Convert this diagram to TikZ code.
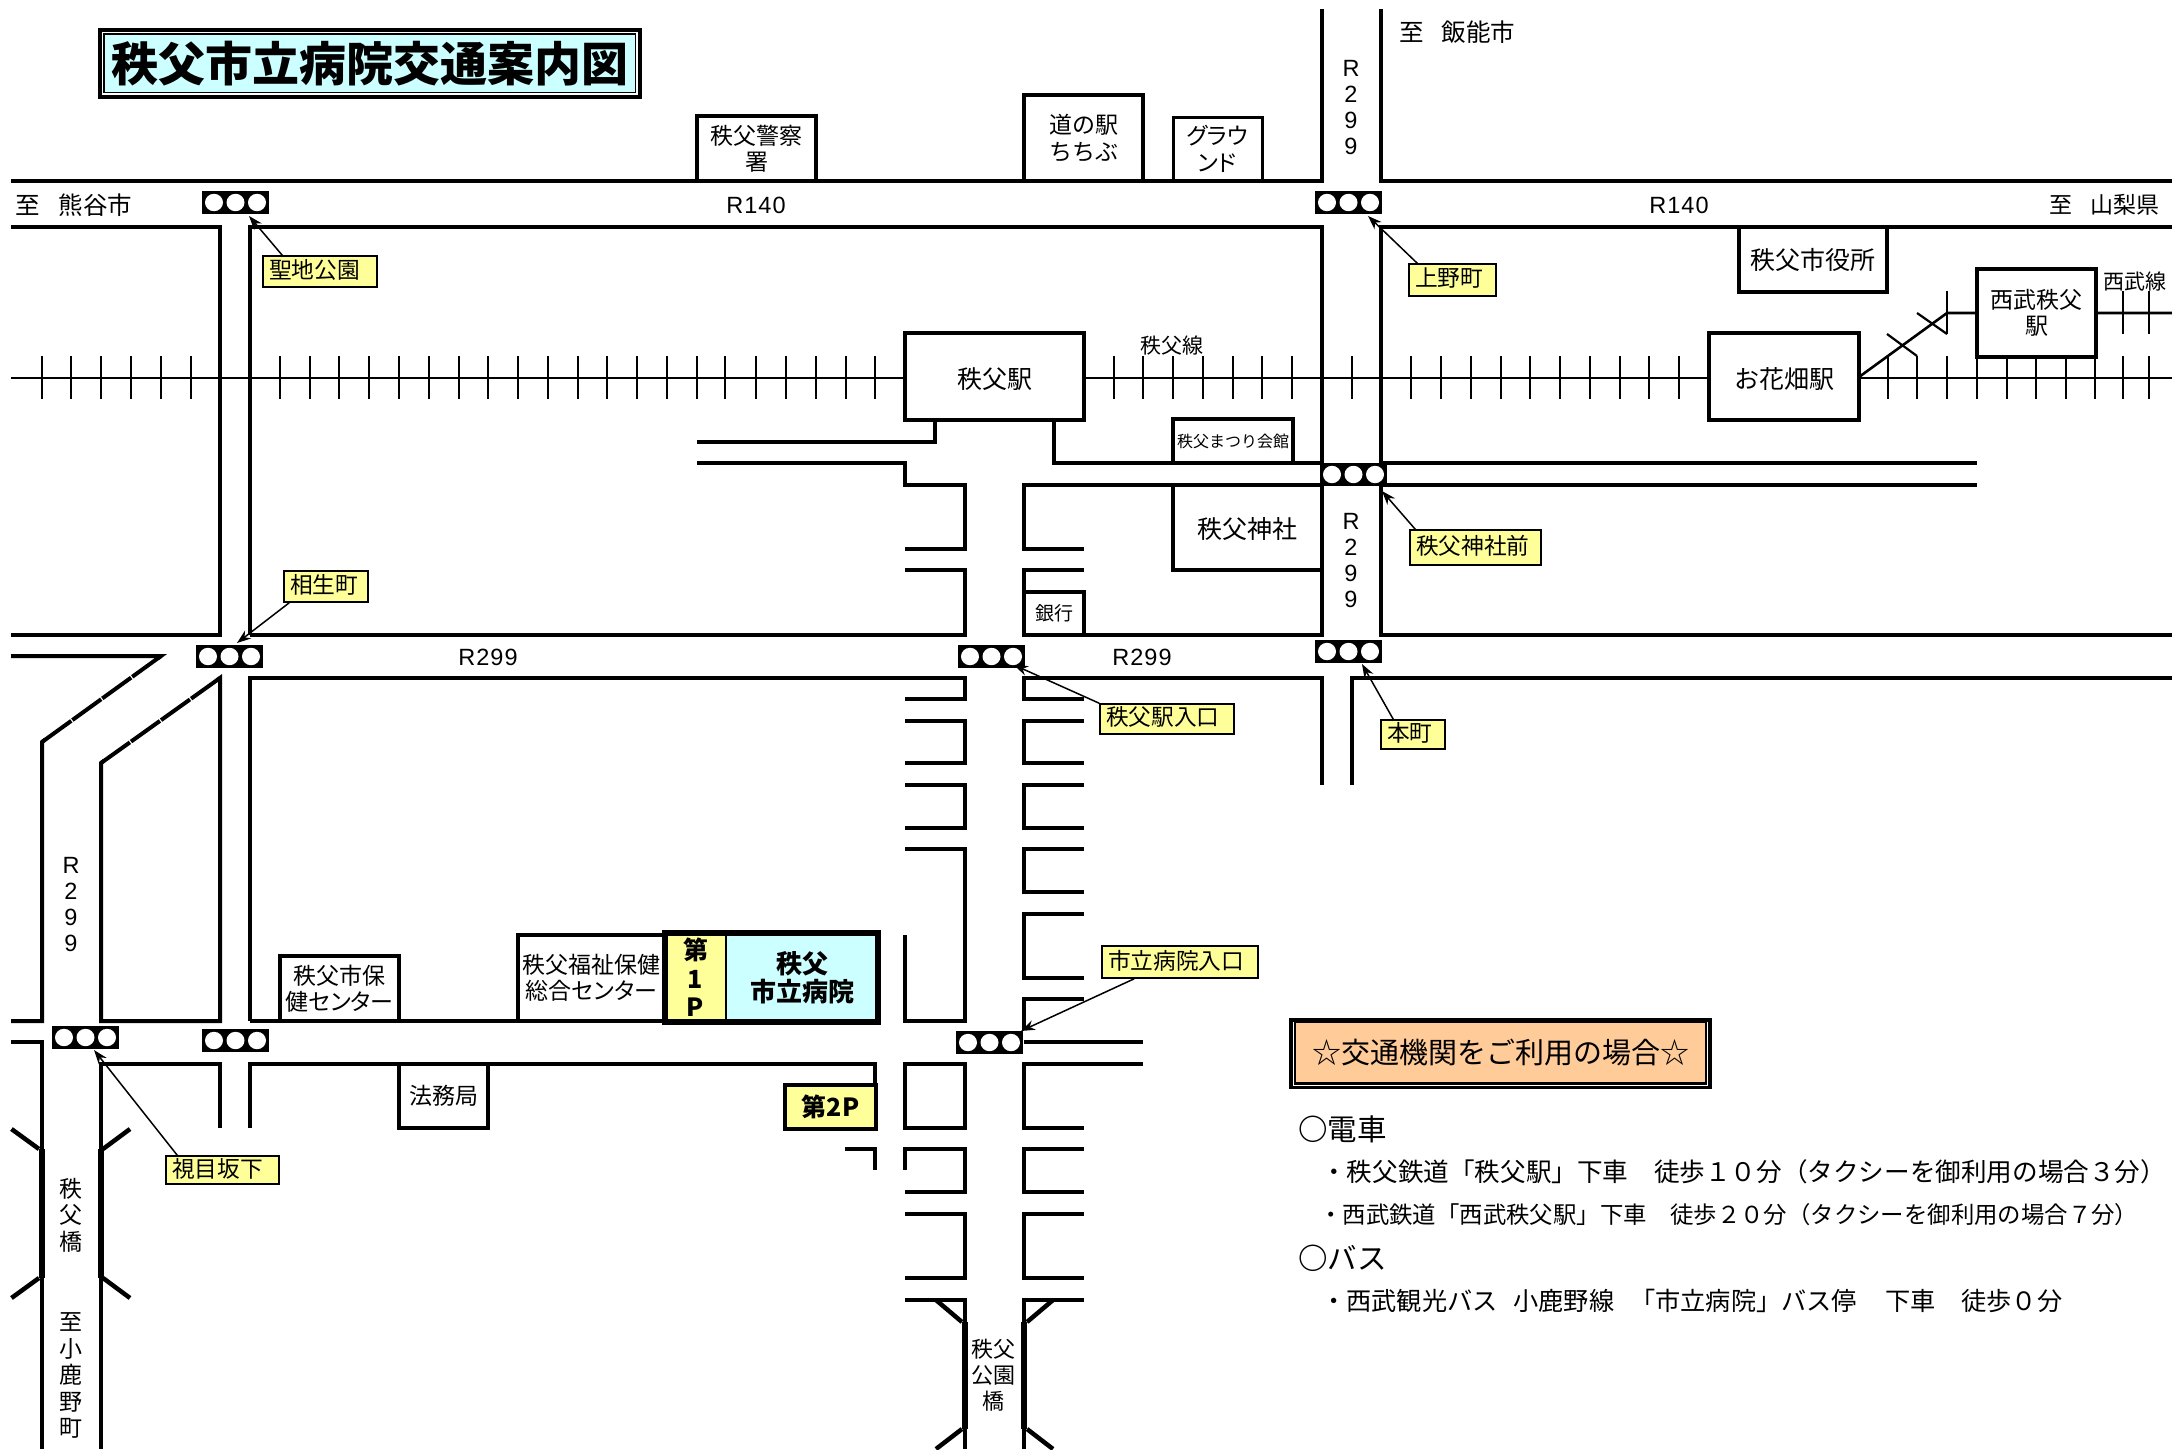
\documentclass[tikz,border=0pt]{standalone}
\usepackage{fontspec}
\usetikzlibrary{arrows.meta}
\setmainfont{Noto Sans CJK JP}
\newfontfamily\latf[LetterSpace=4.5]{Liberation Sans}
\newfontfamily\jpp[RawFeature=+palt]{Noto Sans CJK JP}
\definecolor{titlecyan}{HTML}{CCFFFF}
\definecolor{notey}{HTML}{FFFF99}
\definecolor{panelo}{HTML}{FFCC99}
\newcommand\fz[2]{\fontsize{#1pt}{#2pt}\selectfont}
\newcommand\bxat[7]{%
 \pgfmathsetmacro\bxw{#5-#3}\pgfmathsetmacro\bxh{#6-#4}%
 \pgfmathsetmacro\bxcx{(#3+#5)/2}\pgfmathsetmacro\bxcy{(#4+#6)/2}%
 \node[#2,minimum width=\bxw pt,minimum height=\bxh pt] (#1) at (\bxcx,\bxcy) {#7};}
\newcommand\lblat[6]{%
 \pgfmathsetmacro\bxw{#4-#2}\pgfmathsetmacro\bxh{#5-#3}%
 \pgfmathsetmacro\bxcx{(#2+#4)/2}\pgfmathsetmacro\bxcy{(#3+#5)/2}%
 \pgfmathsetmacro\bxt{#4-#2-12}%
 \node[lbl,text width=\bxt pt,minimum height=\bxh pt] (#1) at (\bxcx,\bxcy) {\rule[-5pt]{0pt}{5pt}#6};}
\newcommand\sigl[3]{%
 \pgfmathsetmacro\bxcx{#2+33.5}\pgfmathsetmacro\bxcy{#3+11.5}%
 \node[sigbox] (#1) at (\bxcx,\bxcy) {};
 \foreach \dx in {-21.5,0,21.5}
  \fill[white] ([xshift=\dx pt]#1.center) ellipse [x radius=9,y radius=8.7];}
\tikzset{
 road/.style={line width=4pt,draw=black},
 diag/.style={line width=4pt,draw=black,dash pattern=on 35.5pt off 1.4pt},
 bridge/.style={line width=6.5pt,draw=black},
 wing/.style={line width=4.5pt,draw=black},
 rail/.style={line width=2.6pt,draw=black},
 tick/.style={line width=2.2pt,draw=black},
 sigbox/.style={fill=black,draw=none,minimum width=67pt,minimum height=23pt,inner sep=0pt},
 box/.style={draw=black,line width=4pt,inner sep=0pt,align=center,font=\fz{23}{26.5}},
 station/.style={draw=black,fill=white,line width=4.2pt,inner sep=0pt,align=center,font=\fz{25}{26.5}},
 lbl/.style={draw=black,fill=notey,line width=1.5pt,inner xsep=6pt,inner ysep=0pt,align=left,font=\fz{22.7}{26}},
 arr/.style={line width=1.5pt,draw=black,-{Stealth[length=14pt,width=10pt]}},
 txt/.style={inner sep=0pt,align=center,font=\fz{23}{26.5}},
 lat/.style={inner sep=0pt,align=center,font=\latf\fz{23.5}{26.3}},
 para/.style={inner sep=0pt,anchor=west,font=\fz{25.6}{28}},
}
\begin{document}
\begin{tikzpicture}[x=1pt,y=-1pt]
\useasboundingbox (0,0) rectangle (2172,1449);
% railway
\draw[rail] (11,378)--(2172,378);
\foreach \x in {42,71,101,131,161,191,280,310,339,369,399,429,459,488,518,548,578,607,637,667,697,725,756,786,816,846,875,1114,1143,1173,1203,1233,1262,1292,1352,1411,1441,1471,1501,1530,1560,1590,1620,1649,1679,1888,1917,1947,1977,2007,2036,2066,2095,2123,2149}
  \draw[tick] (\x,356)--(\x,399);
\draw[rail] (1859,377)--(1947,313)--(2172,313);
\foreach \x in {1947,2123,2149} \draw[tick] (\x,291)--(\x,334);
\draw[tick] (1917,313)--(1947,334);
\draw[tick] (1887,334)--(1917,356);
% roads
\draw[road] (11,181)--(1322,181)--(1322,9);
\draw[road] (1381,9)--(1381,181)--(2172,181);
\draw[road] (11,227)--(220,227)--(220,635)--(11,635);
\draw[road] (250,635)--(250,227)--(1322,227)--(1322,463)--(1054,463)--(1054,420);
\draw[road] (250,635)--(965,635)--(965,570)--(905,570);
\draw[road] (2172,227)--(1381,227)--(1381,463)--(1977,463);
\draw[road] (1977,485)--(1381,485)--(1381,635)--(2172,635);
\draw[road] (1322,485)--(1024,485)--(1024,549)--(1084,549);
\draw[road] (1322,485)--(1322,635)--(1024,635)--(1024,570)--(1084,570);
\draw[road] (935,420)--(935,442)--(697,442);
\draw[road] (697,463)--(905,463)--(905,485)--(965,485)--(965,549)--(905,549);
\draw[road] (11,656)--(161,656)--(158,658.2);
\draw[diag] (161,656)--(42,742);
\draw[road] (45,739.8)--(42,742)--(42,1021)--(11,1021);
\draw[road] (11,1042)--(42,1042)--(42,1449);
\draw[road] (217,680.2)--(220,678)--(220,1021)--(101,1021)--(101,763)--(104,760.8);
\draw[diag] (220,678)--(101,763);
\draw[road] (250,1021)--(250,678)--(965,678)--(965,699)--(905,699);
\draw[road] (250,1021)--(665,1021);
\draw[road] (101,1449)--(101,1064)--(220,1064)--(220,1128);
\draw[road] (250,1128)--(250,1064)--(875,1064)--(875,1084);
\draw[road] (1084,699)--(1024,699)--(1024,678)--(1322,678)--(1322,785);
\draw[road] (1352,785)--(1352,678)--(2172,678);
\foreach \a/\b in {721/763,785/828} {
  \draw[road] (905,\a)--(965,\a)--(965,\b)--(905,\b);
  \draw[road] (1084,\a)--(1024,\a)--(1024,\b)--(1084,\b);
}
\draw[road] (905,849)--(965,849)--(965,1021)--(905,1021)--(905,935);
\foreach \a/\b in {849/892,914/978}
  \draw[road] (1084,\a)--(1024,\a)--(1024,\b)--(1084,\b);
\draw[road] (1084,999)--(1024,999)--(1024,1030);
\draw[road] (1143,1042)--(1024,1042);
\draw[road] (1143,1064)--(1024,1064)--(1024,1128)--(1084,1128);
\draw[road] (905,1064)--(965,1064)--(965,1128)--(905,1128)--cycle;
\draw[road] (905,1170)--(905,1149)--(965,1149)--(965,1192)--(905,1192);
\draw[road] (1084,1149)--(1024,1149)--(1024,1192)--(1084,1192);
\draw[road] (905,1214)--(965,1214)--(965,1278)--(905,1278);
\draw[road] (1084,1214)--(1024,1214)--(1024,1278)--(1084,1278);
\draw[road] (905,1300)--(965,1300)--(965,1449);
\draw[road] (1084,1300)--(1024,1300)--(1024,1449);
\draw[road] (845,1149)--(875,1149)--(875,1170);
% bridges
\draw[bridge] (42,1149)--(42,1278);
\draw[bridge] (101,1149)--(101,1278);
\draw[bridge] (965,1322)--(965,1429);
\draw[bridge] (1024,1322)--(1024,1429);
\draw[wing] (11.5,1129)--(39,1149);
\draw[wing] (130,1129)--(103,1149);
\draw[wing] (39,1278)--(11.5,1298);
\draw[wing] (103,1278)--(130,1298);
\draw[wing] (936,1300)--(962,1322);
\draw[wing] (1053,1300)--(1027,1322);
\draw[wing] (962,1429)--(936,1449);
\draw[wing] (1027,1429)--(1053,1449);
% title
\bxat{titleouter}{draw=black,fill=white,line width=3.6pt}{100}{30}{640}{97}{}
\bxat{title}{draw=black,fill=titlecyan,line width=1.4pt,inner sep=0pt,font=\bfseries\fz{47}{52}}{104}{34}{635.5}{92.5}{秩父市立病院交通案内図}
% buildings
\bxat{keisatsu}{box}{697}{116}{816}{181}{秩父警察\\署}
\bxat{michi}{box}{1024}{95}{1143}{181}{道の駅\\ちちぶ}
\bxat{ground}{box,line width=3pt}{1173}{117}{1262}{181}{{\jpp グラウ}\\{\jpp ンド}}
\bxat{shiyakusho}{box,font=\fz{25}{28}}{1739}{227}{1887}{292}{秩父市役所}
\bxat{chichibueki}{station}{905}{333}{1084}{420}{\rule{0pt}{27pt}秩父駅}
\bxat{ohanabatake}{station}{1709}{333}{1859}{420}{\rule{0pt}{27pt}お花畑駅}
\bxat{seibu}{station,line width=4.6pt,font=\fz{23}{26}}{1977}{269}{2096}{357}{西武秩父\\駅}
\bxat{matsuri}{box,font=\fz{16}{20}}{1173}{419}{1293}{463}{秩父まつり会館}
\bxat{jinja}{box,font=\fz{25}{28}}{1173}{485}{1322}{570}{\rule{0pt}{25pt}秩父神社}
\bxat{ginko}{box,font=\fz{19}{22}}{1024}{592}{1084}{635}{銀行}
\bxat{hoken}{box}{280}{956}{399}{1021}{秩父市保\\{\jpp 健センター}}
\bxat{fukushi}{box}{518}{935}{665}{1021}{秩父福祉保健\\{\jpp 総合センター}}
\bxat{homu}{box}{399}{1064}{488}{1128}{法務局}
% hospital
\bxat{parkone}{fill=notey,inner sep=0pt,align=center,font=\bfseries\fz{25}{28.5}}{665}{933}{726}{1022}{第\\1\\P}
\bxat{hospital}{fill=titlecyan,inner sep=0pt,align=center,font=\bfseries\fz{26}{28}}{726}{933}{878}{1022}{秩父\\市立病院}
\draw[line width=1.5pt] (parkone.north east)--(parkone.south east);
\draw[line width=6pt] (parkone.north west) rectangle (hospital.south east);
\bxat{parktwo}{draw=black,fill=notey,line width=4pt,inner sep=0pt,font=\bfseries\fz{25}{28}}{785}{1085}{876}{1129}{第2P}
% signals
\sigl{sigA}{202}{191}
\sigl{sigB}{1315}{191}
\sigl{sigC}{1320}{463}
\sigl{sigD}{1315}{640}
\sigl{sigE}{958}{645}
\sigl{sigF}{196}{645}
\sigl{sigG}{52}{1026}
\sigl{sigH}{202}{1029}
\sigl{sigI}{956}{1031}
% labels and arrows
\lblat{seichi}{263}{256}{377}{287}{聖地公園}
\lblat{ueno}{1409}{264}{1496}{296}{上野町}
\lblat{aioi}{284}{571}{368}{602}{相生町}
\lblat{jinjamae}{1410}{530}{1541}{565}{秩父神社前}
\lblat{ekiiri}{1100}{704}{1234}{734}{秩父駅入口}
\lblat{honcho}{1381}{720}{1445}{749}{本町}
\lblat{byoiri}{1102}{946}{1258}{978}{市立病院入口}
\lblat{shime}{166}{1156}{279}{1184}{視目坂下}
\coordinate (tipA) at (249,216);
\coordinate (tipB) at (1368,216);
\coordinate (tipC) at (237,643);
\coordinate (tipD) at (1382,491);
\coordinate (tipE) at (1014,665);
\coordinate (tipF) at (1362,664);
\coordinate (tipG) at (1021,1031);
\coordinate (tipH) at (94,1050);
\draw[arr] ([xshift=20pt]seichi.north west)--(tipA);
\draw[arr] ([xshift=9pt]ueno.north west)--(tipB);
\draw[arr] ([xshift=6pt]aioi.south west)--(tipC);
\draw[arr] ([xshift=6pt]jinjamae.north west)--(tipD);
\draw[arr] (ekiiri.north west)--(tipE);
\draw[arr] ([xshift=13pt]honcho.north west)--(tipF);
\draw[arr] ([xshift=33pt]byoiri.south west)--(tipG);
\draw[arr] ([xshift=12pt]shime.north west)--(tipH);
% road texts
\node[txt,anchor=west,font=\fz{24.5}{28}] (tKuma) at (15,205) {至\hspace{19pt}熊谷市};
\node[txt,anchor=west,font=\fz{24.5}{28}] (tHanno) at (1399,32) {至\hspace{18pt}飯能市};
\node[txt,anchor=east] (tYama) at (2160,205) {至\hspace{18pt}山梨県};
\node[lat] (rA) at (756,205) {R140};
\node[lat] (rB) at (1679,205) {R140};
\node[lat] (rC) at (488,657) {R299};
\node[lat] (rD) at (1142,657) {R299};
\node[lat] (rE) at (1351,107.5) {R\\2\\9\\9};
\node[lat] (rF) at (1351,560.5) {R\\2\\9\\9};
\node[lat] (rG) at (71,904.5) {R\\2\\9\\9};
\node[txt,font=\fz{21}{24}] (tChichibusen) at (1172,346) {秩父線};
\node[txt,font=\fz{21}{24}] (tSeibusen) at (2135,282) {西武線};
\node[txt] (tBashi) at (71,1215) {秩\\父\\橋};
\node[txt] (tOgano) at (71,1375.5) {至\\小\\鹿\\野\\町};
\node[txt,font=\fz{22}{26}] (tKoen) at (993,1375) {秩父\\公園\\橋};
% transport panel
\bxat{panelouter}{fill=black,draw=none}{1289}{1018}{1712}{1089}{}
\draw[white,line width=1.2pt] (1293.5,1022)--(1293.5,1085.5)--(1707.5,1085.5)--(1707.5,1022);
\bxat{panel}{fill=panelo,draw=none,inner sep=0pt,font=\fz{29}{32}}{1296}{1023}{1705}{1082}{☆交通機関をご利用の場合☆}
\node[para,font=\fz{29.5}{32}] (pDensha) at (1298,1129) {{\bfseries ○}電車};
\node[para] (pOne) at (1321,1172) {・秩父鉄道「秩父駅」下車　徒歩１０分（タクシーを御利用の場合３分）};
\node[para,font=\fz{23.4}{28}] (pTwo) at (1319,1215) {・西武鉄道「西武秩父駅」下車　徒歩２０分（タクシーを御利用の場合７分）};
\node[para,font=\fz{29.5}{32}] (pBasu) at (1298,1258) {{\bfseries ○}バス};
\node[para,font=\fz{25.2}{28}] (pThree) at (1321,1301) {・西武観光バス\hspace{16pt}小鹿野線\hspace{16pt}「市立病院」バス停\hspace{28pt}下車\hspace{26pt}徒歩０分};
\end{tikzpicture}
\end{document}
